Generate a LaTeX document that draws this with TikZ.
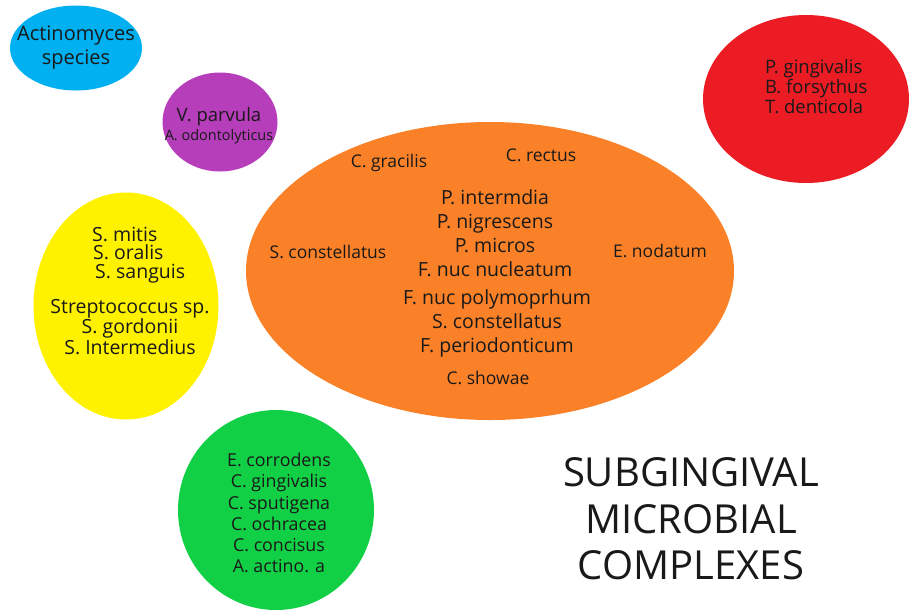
\documentclass[tikz,border=0pt]{standalone}
\usepackage{fontspec}
\setmainfont{Open Sans}
\usetikzlibrary{shapes.geometric}
\definecolor{cxblue}{HTML}{00B0F0}
\definecolor{cxpurple}{HTML}{B63EBB}
\definecolor{cxred}{HTML}{EC1C24}
\definecolor{cxorange}{HTML}{FA8128}
\definecolor{cxyellow}{HTML}{FFF200}
\definecolor{cxgreen}{HTML}{12D046}
\newcommand{\fs}[2]{\fontsize{#1}{#2}\selectfont}

\begin{document}
\begin{tikzpicture}[
  x=1pt, y=-1pt,
  every node/.style={font=\fs{19.5}{18.6}, align=center, text=black!90, inner sep=0pt},
  blob/.style={ellipse, inner sep=0pt},
  small/.style={font=\fs{17.5}{19}},
  big/.style={font=\fs{19.5}{24}}
]
  \useasboundingbox (0,0) rectangle (909,614);

  % complexes
  \node[blob, fill=cxblue,   minimum width=132pt, minimum height=85pt]  (blue)   at (76,48)   {};
  \node[blob, fill=cxpurple, minimum width=115pt, minimum height=99pt]  (purple) at (220,122)  {};
  \node[blob, fill=cxred,    minimum width=206pt, minimum height=168pt] (red)    at (806,99)   {};
  \node[blob, fill=cxorange, minimum width=488pt, minimum height=298pt] (orange) at (490,271)  {};
  \node[blob, fill=cxyellow, minimum width=185pt, minimum height=227pt] (yellow) at (126,306)  {};
  \node[blob, fill=cxgreen,  minimum width=196pt, minimum height=200pt] (green)  at (276,510)  {};

  % labels
  \node[font=\fs{20}{24}] (bluetxt) at (76,48) {Actinomyces\\species};
  \node (purpletxt) at (219,126) {{\fs{18.5}{20}V. parvula}\\{\fs{14.5}{16}A. odontolyticus}};
  \node[anchor=west, align=left, font=\fs{18.5}{20}] (redtxt) at (765,87) {P. gingivalis\\B. forsythus\\T. denticola};

  \node[small] (gracilis) at (389,163) {C. gracilis};
  \node[small] (rectus)   at (541,155) {C. rectus};
  \node[small] (sconst)   at (328,252) {S. constellatus};
  \node[small] (nodatum)  at (660,251) {E. nodatum};
  \node[small] (showae)   at (488,378) {C. showae};
  \node[big] (orangetop) at (495,233) {P. intermdia\\P. nigrescens\\P. micros\\F. nuc nucleatum};
  \node[big] (orangebot) at (497,323) {F. nuc polymoprhum\\S. constellatus\\F. periodonticum};

  \node[anchor=west, align=left] (yellowtop) at (92,255) {S. mitis\\\hspace*{1pt}S. oralis\\\hspace*{3pt}S. sanguis};
  \node (yellowbot) at (130,327) {Streptococcus sp.\\S. gordonii\\S. Intermedius};

  \node[font=\fs{17.8}{21.2}] (greentxt) at (279,513) {E. corrodens\\C. gingivalis\\C. sputigena\\C. ochracea\\C. concisus\\A. actino. a};

  \node[font=\fs{40}{46.5}] (title) at (691,519) {SUBGINGIVAL\\MICROBIAL\\COMPLEXES};
\end{tikzpicture}
\end{document}
